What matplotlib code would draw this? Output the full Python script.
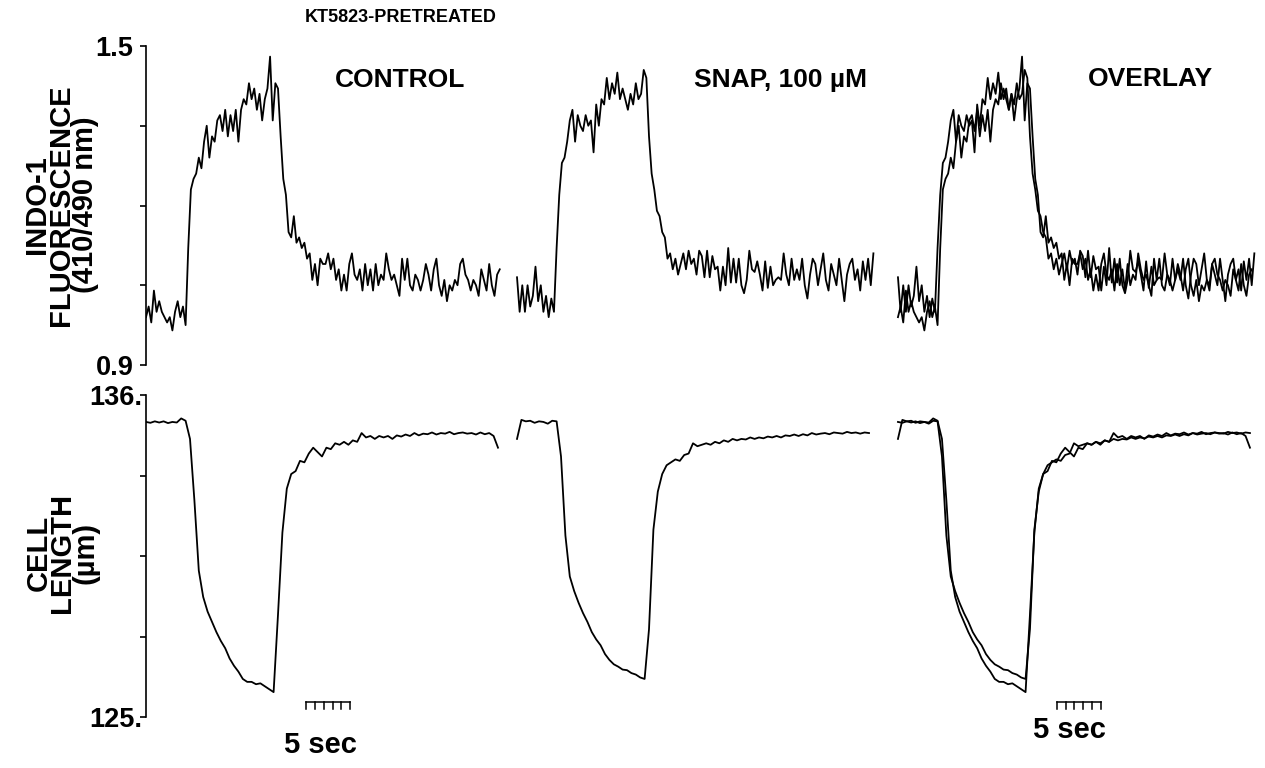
import numpy as np
import matplotlib.pyplot as plt

plt.rcParams['font.family'] = ['Liberation Sans', 'DejaVu Sans']

# ---- data ----
dt_fluor = 0.3   # s between fluorescence samples
dt_len = 0.5     # s between cell length samples

# indo-1 ratio, control contraction
ctrl_fluor = [
    0.99, 1.01, 0.98, 1.04, 1.00, 1.02, 1.00, 0.99, 0.98, 0.99,
    0.965, 1.00, 1.02, 0.99, 1.01, 0.975, 1.12, 1.23, 1.25, 1.26,
    1.29, 1.27, 1.32, 1.35, 1.29, 1.33, 1.32, 1.36, 1.37, 1.34,
    1.38, 1.33, 1.37, 1.34, 1.38, 1.32, 1.38, 1.40, 1.39, 1.43,
    1.40, 1.42, 1.38, 1.41, 1.36, 1.40, 1.42, 1.48, 1.36, 1.43,
    1.42, 1.33, 1.25, 1.22, 1.15, 1.14, 1.18, 1.13, 1.14, 1.12,
    1.13, 1.10, 1.11, 1.06, 1.09, 1.05, 1.10, 1.09,
    1.09, 1.11, 1.08, 1.10, 1.06, 1.08, 1.04, 1.07, 1.04, 1.09,
    1.11, 1.07, 1.06, 1.08, 1.04, 1.09, 1.05, 1.08, 1.04, 1.09,
    1.05, 1.07, 1.06, 1.11, 1.08, 1.06, 1.07, 1.05, 1.03, 1.10,
    1.06, 1.10, 1.05, 1.04, 1.07, 1.06, 1.04, 1.06, 1.09, 1.07,
    1.04, 1.08, 1.10, 1.05, 1.03, 1.06, 1.02, 1.05, 1.04, 1.06,
    1.05, 1.09, 1.10, 1.07, 1.06, 1.04, 1.06, 1.05, 1.03, 1.08,
    1.06, 1.04, 1.09, 1.05, 1.03, 1.07, 1.08,
]

# indo-1 ratio, SNAP 100 uM
snap_fluor = [
    1.065, 1.00, 1.05, 1.00, 1.05, 1.01, 1.03, 1.085, 1.02, 1.05,
    1.00, 1.03, 0.99, 1.025, 1.00, 1.12, 1.22, 1.28, 1.29, 1.32,
    1.36, 1.38, 1.32, 1.37, 1.35, 1.34, 1.37, 1.35, 1.36, 1.30,
    1.39, 1.35, 1.40, 1.39, 1.44, 1.40, 1.43, 1.41, 1.45, 1.40,
    1.42, 1.40, 1.38, 1.41, 1.39, 1.43, 1.40, 1.41, 1.455, 1.44,
    1.33, 1.26, 1.23, 1.19, 1.18, 1.15, 1.14, 1.10, 1.11, 1.08,
    1.10, 1.07, 1.09,
    1.11, 1.08, 1.115, 1.09, 1.10, 1.07, 1.115, 1.105, 1.065, 1.115,
    1.065, 1.105, 1.08, 1.085, 1.04, 1.085, 1.05, 1.12, 1.055, 1.10,
    1.055, 1.10, 1.05, 1.035, 1.06, 1.115, 1.08, 1.075, 1.095, 1.07,
    1.04, 1.095, 1.045, 1.085, 1.05, 1.06, 1.065, 1.06, 1.11, 1.07,
    1.05, 1.10, 1.06, 1.08, 1.06, 1.10, 1.05, 1.025, 1.07, 1.10,
    1.09, 1.05, 1.08, 1.11, 1.06, 1.04, 1.09, 1.07, 1.05, 1.10,
    1.06, 1.02, 1.07, 1.09, 1.10, 1.06, 1.08, 1.04, 1.095, 1.06,
    1.10, 1.05, 1.11,
]

# cell length (um), control
ctrl_len = [
    135.08, 135.05, 135.10, 135.06, 135.10, 135.04, 135.08, 135.06, 135.20, 135.12,
    134.50, 132.40, 130.00, 129.10, 128.60, 128.25, 127.90, 127.60, 127.35, 127.00,
    126.75, 126.55, 126.30, 126.20, 126.20, 126.12, 126.15, 126.05, 125.95, 125.85,
    128.50, 131.30, 132.80, 133.30, 133.40, 133.75, 133.70, 134.00, 134.20, 134.05,
    133.90, 134.20, 134.15, 134.35, 134.30, 134.40, 134.30, 134.45, 134.40, 134.70,
    134.55, 134.60, 134.50, 134.60, 134.55, 134.60, 134.50, 134.62, 134.58, 134.65,
    134.60, 134.70, 134.62, 134.68, 134.66, 134.72, 134.65, 134.70, 134.68, 134.74,
    134.66, 134.70, 134.72, 134.68, 134.70, 134.65, 134.72, 134.66, 134.70, 134.60,
    134.20,
]

# cell length (um), SNAP 100 uM
snap_len = [
    134.50, 135.15, 135.10, 135.12, 135.05, 135.10, 135.08, 135.02, 135.12, 135.10,
    133.90, 131.20, 129.80, 129.30, 128.90, 128.55, 128.25, 127.90, 127.65, 127.45,
    127.15, 126.95, 126.80, 126.72, 126.62, 126.60, 126.50, 126.45, 126.35, 126.30,
    128.00, 131.40, 132.70, 133.30, 133.60, 133.70, 133.80, 133.75, 133.95, 134.00,
    134.35, 134.25, 134.30, 134.35, 134.30, 134.40, 134.35, 134.45, 134.40, 134.50,
    134.45, 134.50, 134.48, 134.55, 134.50, 134.55, 134.52, 134.58, 134.55, 134.60,
    134.55, 134.62, 134.60, 134.65, 134.60, 134.66, 134.62, 134.70, 134.65, 134.68,
    134.70, 134.66, 134.72, 134.70, 134.68, 134.74, 134.70, 134.72, 134.68, 134.72,
    134.70,
]

panel_names = ['CONTROL', 'SNAP, 100 \u00b5M', 'OVERLAY']
panel_start = [0.0, 42.16, 85.45]   # s, where each panel's trace starts
bar_start = [18.2, 103.5]           # s, 5 sec calibration bars

# ---- layout (pixels of a 1265x768 canvas) ----
W, H = 1265, 768
px_per_s = 8.8

fig = plt.figure(figsize=(W / 100, H / 100), dpi=100)


def box(x0, y0, x1, y1):
    return [x0 / W, 1 - y1 / H, (x1 - x0) / W, (y1 - y0) / H]


def label(x, y, s, size, **kw):
    fig.text(x / W, 1 - y / H, s, ha='center', va='center',
             fontsize=size, fontweight='bold', **kw)


ax1 = fig.add_axes(box(146, 46, W, 365))
ax2 = fig.add_axes(box(146, 395, W, 717))
t_end = (W - 146) / px_per_s

tf_c = np.arange(len(ctrl_fluor)) * dt_fluor
tf_s = np.arange(len(snap_fluor)) * dt_fluor
tl_c = np.arange(len(ctrl_len)) * dt_len
tl_s = np.arange(len(snap_len)) * dt_len

lw = 1.3
ax1.plot(tf_c + panel_start[0], ctrl_fluor, color='k', lw=lw)
ax1.plot(tf_s + panel_start[1], snap_fluor, color='k', lw=lw)
ax1.plot(tf_c + panel_start[2], ctrl_fluor, color='k', lw=lw)
ax1.plot(tf_s + panel_start[2], snap_fluor, color='k', lw=lw)

ax2.plot(tl_c + panel_start[0], ctrl_len, color='k', lw=lw)
ax2.plot(tl_s + panel_start[1], snap_len, color='k', lw=lw)
ax2.plot(tl_c + panel_start[2], ctrl_len, color='k', lw=lw)
ax2.plot(tl_s + panel_start[2], snap_len, color='k', lw=lw)

for ax in (ax1, ax2):
    for s in ['top', 'right', 'bottom']:
        ax.spines[s].set_visible(False)
    ax.spines['left'].set_linewidth(1.2)
    ax.set_xticks([])
    ax.set_xlim(0, t_end)
    ax.patch.set_visible(False)
    ax.tick_params(axis='y', direction='out', length=4, width=1.2, labelsize=19.5)

ax1.set_ylim(0.9, 1.5)
ax1.set_yticks(np.linspace(0.9, 1.5, 5))
ax1.set_yticklabels(['0.9', '', '', '', '1.5'], fontweight='bold')
ax1.tick_params(axis='y', pad=5)

ax2.set_ylim(125, 136)
ax2.set_yticks(np.linspace(125, 136, 5))
ax2.set_yticklabels(['125.', '', '', '', '136.'], fontweight='bold')
ax2.tick_params(axis='y', pad=-1)

# 5 sec calibration bars
y_bar = 136 - (702 - 395) * 11 / 322
y_tick = 136 - (709 - 395) * 11 / 322
for t0 in bar_start:
    ax2.plot([t0, t0 + 5], [y_bar, y_bar], color='k', lw=1.1, clip_on=False)
    for k in range(6):
        ax2.plot([t0 + k, t0 + k], [y_bar, y_tick], color='k', lw=1.1, clip_on=False)

# text
label(401, 18, 'KT5823-PRETREATED', 13)
label(400, 80, panel_names[0], 19)
label(780, 80, panel_names[1], 19)
label(1150, 79, panel_names[2], 19)

label(61, 205, 'INDO-1\nFLUORESCENCE\n(410/490 nm)', 21, rotation=90,
      linespacing=0.8)
label(62, 553, 'CELL\nLENGTH\n(\u00b5m)', 21, rotation=90, linespacing=0.8)

label(320, 745, '5 sec', 21)
label(1069, 730, '5 sec', 21)

fig.savefig('out.png', dpi=100)
